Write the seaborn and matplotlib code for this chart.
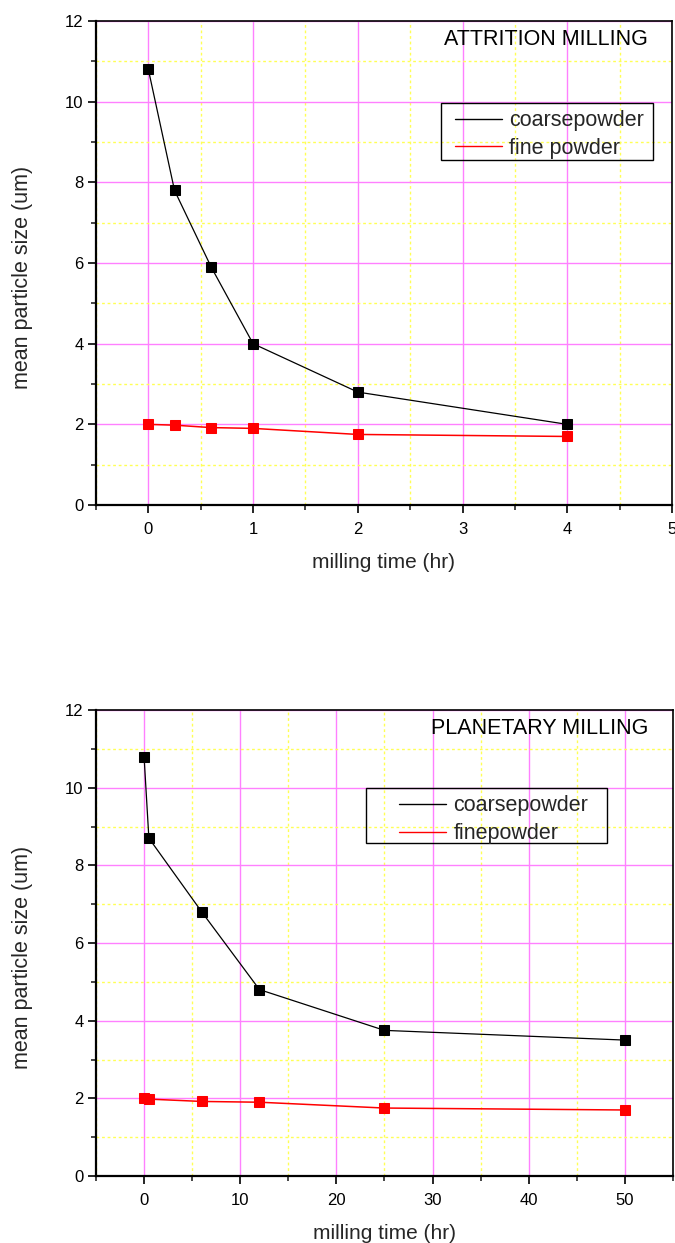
import matplotlib
matplotlib.use("Agg")
import matplotlib.pyplot as plt
from matplotlib.lines import Line2D
from matplotlib.patches import Rectangle
from matplotlib.ticker import MultipleLocator
import seaborn as sns
import pandas as pd

# ---- data ----
attr_time = [0, 0.25, 0.6, 1, 2, 4]
attr_coarse = [10.8, 7.8, 5.9, 4.0, 2.8, 2.0]
attr_fine = [2.0, 1.98, 1.92, 1.9, 1.75, 1.7]

plan_time = [0, 0.5, 6, 12, 25, 50]
plan_coarse = [10.8, 8.7, 6.8, 4.8, 3.75, 3.5]
plan_fine = [2.0, 1.98, 1.92, 1.9, 1.75, 1.7]

attr_labels = ["coarsepowder", "fine powder"]
plan_labels = ["coarsepowder", "finepowder"]
attr_title = "ATTRITION MILLING"
plan_title = "PLANETARY MILLING"
xlabel = "milling time (hr)"
ylabel = "mean particle size (um)"

sns.set_theme(style="white")
plt.rcParams["font.family"] = ["Liberation Sans", "DejaVu Sans"]

fig = plt.figure(figsize=(6.75, 12.43), dpi=100)
ax1 = fig.add_axes([0.1422, 0.5937, 0.8533, 0.3894])
ax2 = fig.add_axes([0.1422, 0.0539, 0.8548, 0.3749])

MAJ = "#ff80ff"
MIN = "#ffff55"


def panel(ax, t, coarse, fine, labels, title, xlim, xmaj, xmin, leg_anchor, rect):
    df = pd.DataFrame({"t": t, "coarse": coarse, "fine": fine})
    ax.set_axisbelow(True)
    sns.lineplot(data=df, x="t", y="coarse", ax=ax, color="black", lw=0.9,
                 marker="s", markersize=7.5, markeredgecolor="black", sort=False)
    sns.lineplot(data=df, x="t", y="fine", ax=ax, color="red", lw=1.1,
                 marker="s", markersize=7.5, markeredgecolor="red", sort=False)
    ax.set_xlim(*xlim)
    ax.set_ylim(0, 12)
    ax.xaxis.set_major_locator(MultipleLocator(xmaj))
    ax.xaxis.set_minor_locator(MultipleLocator(xmin))
    ax.yaxis.set_major_locator(MultipleLocator(2))
    ax.yaxis.set_minor_locator(MultipleLocator(1))
    ax.grid(True, which="major", color=MAJ, lw=1.0, ls="-")
    ax.grid(True, which="minor", color=MIN, lw=1.0, ls=(0, (2, 2)))
    for s in ax.spines.values():
        s.set_visible(True)
        s.set_color("black")
        s.set_linewidth(1.2)
    ax.spines["left"].set_linewidth(1.6)
    ax.spines["bottom"].set_linewidth(1.6)
    ax.tick_params(which="major", direction="out", length=6, width=1.2,
                   labelsize=12, colors="black", left=True, bottom=True, pad=3)
    ax.tick_params(which="minor", direction="out", length=3.5, width=1.2,
                   left=True, bottom=True)
    ax.tick_params(axis="x", which="major", pad=6)
    ax.set_xlabel(xlabel, fontsize=15, labelpad=12)
    ax.set_ylabel(ylabel, fontsize=15.5)
    ax.yaxis.set_label_coords(-0.11, 0.47)
    ax.text(0.958, 0.961, title, transform=ax.transAxes, ha="right", va="center",
            fontsize=15.5, color="black")
    handles = [Line2D([], [], color="black", lw=1.0),
               Line2D([], [], color="red", lw=1.0)]
    ax.legend(handles, labels, loc="upper left", bbox_to_anchor=leg_anchor,
              frameon=False, fontsize=15.5, borderpad=0, borderaxespad=0,
              handlelength=2.2, handletextpad=0.33, labelspacing=0.32)
    x0, y0, x1, y1 = rect
    ax.add_patch(Rectangle((x0, y0), x1 - x0, y1 - y0, transform=ax.transAxes,
                           fill=False, edgecolor="black", lw=1.0, zorder=5))


panel(ax1, attr_time, attr_coarse, attr_fine, attr_labels, attr_title,
      (-0.5, 5), 1, 0.5, (0.623, 0.816), (0.599, 0.713, 0.967, 0.831))
panel(ax2, plan_time, plan_coarse, plan_fine, plan_labels, plan_title,
      (-5, 55), 10, 5, (0.525, 0.817), (0.468, 0.715, 0.886, 0.833))

fig.savefig("out.png", dpi=100)
